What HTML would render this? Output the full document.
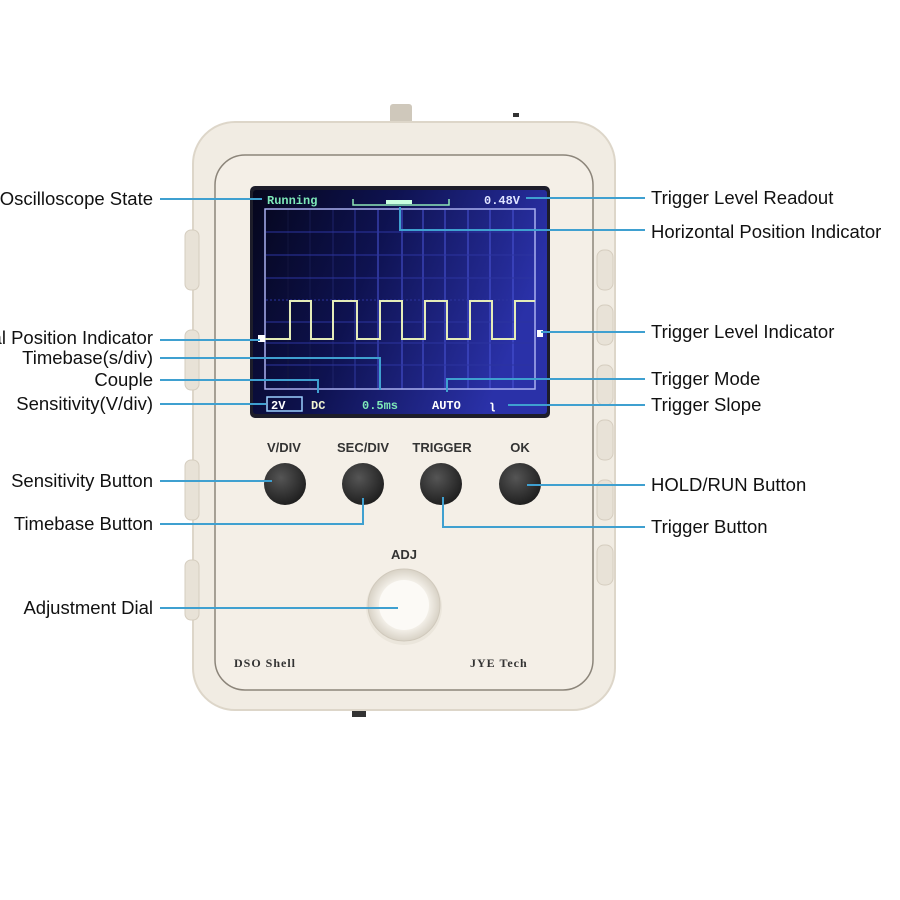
<!DOCTYPE html>
<html><head><meta charset="utf-8"><style>
html,body{margin:0;padding:0;background:#fff;}
svg{display:block;}
.l{font-family:"Liberation Sans",sans-serif;font-size:18.5px;fill:#111;}
.b{font-family:"Liberation Sans",sans-serif;font-size:13px;font-weight:bold;fill:#333;}
.m{font-family:"Liberation Mono",monospace;font-size:12px;font-weight:bold;}
.c{stroke:#3fa0d0;stroke-width:2;fill:none;}
</style></head><body>
<svg width="900" height="900" viewBox="0 0 900 900">
<defs>
<linearGradient id="scr" x1="0" y1="0" x2="1" y2="0.3">
<stop offset="0" stop-color="#05061c"/><stop offset="0.45" stop-color="#0e1250"/><stop offset="1" stop-color="#2a31a8"/></linearGradient>
<radialGradient id="btn" cx="0.4" cy="0.35" r="0.7"><stop offset="0" stop-color="#555"/><stop offset="1" stop-color="#1c1c1c"/></radialGradient>
<radialGradient id="dial" cx="0.5" cy="0.5" r="0.5"><stop offset="0.6" stop-color="#fbf8f2"/><stop offset="1" stop-color="#d8d2c6"/></radialGradient>
</defs>
<rect x="390" y="104" width="22" height="22" rx="3" fill="#cfc8bb"/>
<rect x="513" y="113" width="6" height="4" fill="#333"/>
<rect x="352" y="709" width="14" height="8" fill="#333"/>
<rect x="193" y="122" width="422" height="588" rx="42" fill="#f1ece3" stroke="#ddd6c9" stroke-width="2"/>
<g fill="#e8e2d7" stroke="#d5cdbf">
<rect x="185" y="230" width="14" height="60" rx="6"/><rect x="185" y="330" width="14" height="60" rx="6"/>
<rect x="185" y="460" width="14" height="60" rx="6"/><rect x="185" y="560" width="14" height="60" rx="6"/>
<rect x="597" y="250" width="16" height="40" rx="7"/><rect x="597" y="305" width="16" height="40" rx="7"/>
<rect x="597" y="365" width="16" height="40" rx="7"/><rect x="597" y="420" width="16" height="40" rx="7"/>
<rect x="597" y="480" width="16" height="40" rx="7"/><rect x="597" y="545" width="16" height="40" rx="7"/>
</g>
<rect x="215" y="155" width="378" height="535" rx="30" fill="#f4efe7" stroke="#8c857a" stroke-width="1.5"/>
<rect x="250" y="186" width="300" height="232" rx="5" fill="#1d1d2a"/>
<rect x="253" y="190" width="294" height="224" rx="3" fill="url(#scr)"/>
<g stroke="#4a55d8" stroke-width="1">
<line x1="378" y1="210" x2="378" y2="389"/><line x1="402" y1="210" x2="402" y2="389"/><line x1="423" y1="210" x2="423" y2="389"/><line x1="445" y1="210" x2="445" y2="389"/><line x1="468" y1="210" x2="468" y2="389"/><line x1="490" y1="210" x2="490" y2="389"/><line x1="513" y1="210" x2="513" y2="389"/>
<line x1="355" y1="210" x2="355" y2="389" stroke="#2f39a0"/><line x1="333" y1="210" x2="333" y2="389" stroke="#1e236a"/><line x1="310" y1="210" x2="310" y2="389" stroke="#161a50"/><line x1="288" y1="210" x2="288" y2="389" stroke="#12153e"/>
<g stroke="#2c34a0"><line x1="266" y1="232" x2="535" y2="232"/><line x1="266" y1="255" x2="535" y2="255"/><line x1="266" y1="278" x2="535" y2="278"/><line x1="266" y1="300" x2="535" y2="300" stroke-dasharray="2 2"/><line x1="266" y1="322" x2="535" y2="322"/><line x1="266" y1="343" x2="535" y2="343"/><line x1="266" y1="365" x2="535" y2="365"/></g>
</g>
<rect x="265" y="209" width="270" height="180" fill="none" stroke="#a9b0f0" stroke-width="1.5"/>
<polyline fill="none" stroke="#e4ecb8" stroke-width="2" points="262,339 290,339 290,301 311,301 311,339 333,339 333,301 357,301 357,339 380,339 380,301 402,301 402,339 425,339 425,301 447,301 447,339 470,339 470,301 492,301 492,339 515,339 515,301 535,301"/>
<rect x="258" y="335" width="7" height="7" fill="#fff"/><rect x="537" y="330" width="6" height="7" fill="#fff"/>
<text x="267" y="204" class="m" fill="#7de8b8">Running</text>
<path d="M353 199v6h96v-6" fill="none" stroke="#8fe8b8" stroke-width="1.5"/>
<rect x="386" y="200" width="26" height="4" fill="#c9ffe0"/>
<text x="484" y="204" class="m" fill="#dfe4ff">0.48V</text>
<rect x="267" y="397" width="35" height="14" fill="none" stroke="#9bd0ff" stroke-width="1.5"/>
<text x="271" y="409" class="m" fill="#fff">2V</text>
<text x="311" y="409" class="m" fill="#f0f4d0">DC</text>
<text x="362" y="409" class="m" fill="#7de8b8">0.5ms</text>
<text x="432" y="409" class="m" fill="#fff">AUTO</text>
<text x="489" y="409" class="m" fill="#fff">ʅ</text>
<text x="284" y="452" class="b" text-anchor="middle">V/DIV</text>
<text x="363" y="452" class="b" text-anchor="middle">SEC/DIV</text>
<text x="442" y="452" class="b" text-anchor="middle">TRIGGER</text>
<text x="520" y="452" class="b" text-anchor="middle">OK</text>
<circle cx="285" cy="484" r="21" fill="url(#btn)"/><circle cx="363" cy="484" r="21" fill="url(#btn)"/>
<circle cx="441" cy="484" r="21" fill="url(#btn)"/><circle cx="520" cy="484" r="21" fill="url(#btn)"/>
<text x="404" y="559" class="b" text-anchor="middle">ADJ</text>
<circle cx="404" cy="607" r="38" fill="#ebe6dc"/><circle cx="404" cy="605" r="36" fill="url(#dial)" stroke="#d0c9bc"/>
<circle cx="404" cy="605" r="25" fill="#fcfaf6"/>
<text x="234" y="667" font-family="Liberation Serif,serif" font-weight="bold" font-size="12" fill="#333" letter-spacing="1">DSO Shell</text>
<text x="470" y="667" font-family="Liberation Serif,serif" font-weight="bold" font-size="12" fill="#333" letter-spacing="1">JYE Tech</text>
<g class="c">
<path d="M160 199H262"/>
<path d="M160 340H260"/>
<path d="M160 358H380V390"/>
<path d="M160 380H318V393"/>
<path d="M160 404H266"/>
<path d="M160 481H272"/>
<path d="M160 524H363V498"/>
<path d="M160 608H398"/>
<path d="M526 198H645"/>
<path d="M400 207V230H645"/>
<path d="M541 332H645"/>
<path d="M447 392V379H645"/>
<path d="M508 405H645"/>
<path d="M527 485H645"/>
<path d="M443 497V527H645"/>
</g>
<g class="l" text-anchor="end">
<text x="153" y="205">Oscilloscope State</text>
<text x="153" y="344">Vertical Position Indicator</text>
<text x="153" y="364">Timebase(s/div)</text>
<text x="153" y="386">Couple</text>
<text x="153" y="410">Sensitivity(V/div)</text>
<text x="153" y="487">Sensitivity Button</text>
<text x="153" y="530">Timebase Button</text>
<text x="153" y="614">Adjustment Dial</text>
</g>
<g class="l">
<text x="651" y="204">Trigger Level Readout</text>
<text x="651" y="238">Horizontal Position Indicator</text>
<text x="651" y="338">Trigger Level Indicator</text>
<text x="651" y="385">Trigger Mode</text>
<text x="651" y="411">Trigger Slope</text>
<text x="651" y="491">HOLD/RUN Button</text>
<text x="651" y="533">Trigger Button</text>
</g>
</svg>
</body></html>
